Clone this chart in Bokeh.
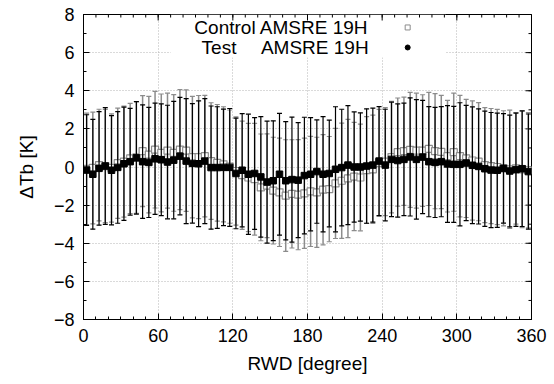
import math
from bokeh.plotting import figure
from bokeh.models import (ColumnDataSource, Label, BoxAnnotation,
                          Range1d, FixedTicker)
from bokeh.embed import file_html
from bokeh.resources import INLINE

# ---- data (bin centres every 5 degrees) ----
rwd = [2.5 + 5 * i for i in range(72)]

control_mean = [
    -0.10, -0.05, 0.10, 0.05, -0.05, 0.20, 0.28, 0.45, 0.50, 0.83, 0.65, 0.91,
    0.74, 0.86, 0.74, 0.91, 0.86, 0.52, 0.52, 0.57, 0.31, 0.22, 0.14, 0.02,
    -0.21, -0.43, -0.55, -0.64, -1.07, -0.98, -1.24, -1.33, -1.50, -1.41, -1.45, -1.38,
    -1.28, -1.33, -1.19, -1.16, -0.86, -0.72, -0.60, -0.50, -0.55, -0.16, -0.12, 0.22,
    0.28, 0.52, 0.78, 0.83, 0.90, 0.86, 0.86, 0.95, 0.83, 0.79, 0.57, 0.78,
    0.57, 0.45, 0.34, 0.28, 0.10, 0.05, 0.00, -0.07, -0.12, -0.07, -0.12, -0.17]

control_sd = [
    2.93, 2.93, 2.93, 2.97, 2.84, 2.89, 2.91, 2.89, 2.93, 2.91, 3.06, 3.06,
    3.09, 3.02, 3.06, 3.15, 3.19, 3.19, 3.23, 3.19, 3.06, 3.06, 3.02, 2.97,
    2.84, 2.84, 2.84, 2.93, 2.80, 2.72, 2.80, 2.84, 2.93, 2.84, 2.89, 2.89,
    2.89, 2.89, 2.89, 2.76, 2.89, 3.02, 3.10, 2.84, 2.80, 2.80, 2.84, 2.80,
    2.83, 2.93, 2.84, 2.84, 3.02, 3.02, 2.93, 2.97, 3.02, 2.97, 2.93, 3.10,
    3.19, 3.10, 3.13, 3.10, 3.02, 3.02, 3.02, 3.02, 3.10, 2.93, 3.06, 3.02]

test_mean = [
    -0.16, -0.38, -0.07, 0.05, -0.17, -0.02, 0.17, 0.28, 0.48, 0.28, 0.24, 0.43,
    0.38, 0.26, 0.36, 0.57, 0.31, 0.19, 0.17, 0.31, -0.03, -0.03, -0.02, -0.02,
    -0.34, -0.17, -0.38, -0.34, -0.52, -0.79, -0.72, -0.38, -0.72, -0.66, -0.69, -0.45,
    -0.38, -0.24, -0.38, -0.34, -0.12, -0.03, 0.10, 0.00, 0.00, 0.05, 0.10, 0.31,
    0.10, 0.40, 0.34, 0.40, 0.53, 0.40, 0.52, 0.28, 0.24, 0.28, 0.16, 0.14,
    0.14, 0.21, 0.09, 0.03, -0.09, -0.16, -0.17, -0.07, -0.21, -0.14, -0.09, -0.24]

test_sd = [
    2.90, 2.88, 2.98, 3.06, 2.87, 2.93, 2.97, 2.80, 2.95, 2.98, 2.89, 2.92,
    2.93, 2.98, 3.08, 3.08, 3.28, 3.13, 3.30, 3.28, 3.23, 3.19, 3.06, 3.09,
    2.90, 2.97, 3.15, 2.93, 3.16, 3.20, 3.14, 3.19, 3.10, 3.28, 3.02, 3.06,
    2.97, 2.71, 3.02, 2.80, 3.28, 3.06, 3.12, 2.89, 2.84, 3.00, 2.99, 2.86,
    2.93, 3.00, 2.97, 2.95, 3.10, 3.13, 2.97, 2.89, 2.89, 2.89, 3.06, 3.04,
    3.23, 3.02, 3.06, 3.02, 3.02, 3.02, 3.00, 2.87, 2.93, 2.97, 3.03, 3.02]

x_ticks = [0, 60, 120, 180, 240, 300, 360]
x_minor = list(range(0, 361, 10))
y_ticks = [-8, -6, -4, -2, 0, 2, 4, 6, 8]
y_minor = list(range(-8, 9, 1))
X_MIN, X_MAX = 0, 360
Y_MIN, Y_MAX = -8, 8

FONT = "Liberation Sans"
GRAY = "#8c8c8c"

src_c = ColumnDataSource(dict(
    x=rwd, m=control_mean,
    lo=[m - s for m, s in zip(control_mean, control_sd)],
    hi=[m + s for m, s in zip(control_mean, control_sd)]))
src_t = ColumnDataSource(dict(
    x=rwd, m=test_mean,
    lo=[m - s for m, s in zip(test_mean, test_sd)],
    hi=[m + s for m, s in zip(test_mean, test_sd)]))

p = figure(width=554, height=384, output_backend="svg", toolbar_location=None,
           x_range=Range1d(X_MIN, X_MAX), y_range=Range1d(Y_MIN, Y_MAX),
           min_border_left=83, min_border_right=23, min_border_top=14,
           min_border_bottom=65)
p.outline_line_color = "black"
p.outline_line_width = 1
p.background_fill_color = "white"
p.border_fill_color = "white"

xt = FixedTicker(ticks=x_ticks, minor_ticks=x_minor)
yt = FixedTicker(ticks=y_ticks, minor_ticks=y_minor)

for ax, ticker in ((p.xaxis[0], xt), (p.yaxis[0], yt)):
    ax.ticker = ticker
    ax.axis_line_color = "black"
    ax.major_tick_line_color = "black"
    ax.minor_tick_line_color = "black"
    ax.major_tick_in = 6
    ax.major_tick_out = 0
    ax.minor_tick_in = 3
    ax.minor_tick_out = 0
    ax.major_label_text_font = FONT
    ax.major_label_text_font_size = "18px"
    ax.major_label_text_color = "black"
    ax.major_label_standoff = 9
    ax.axis_label_text_font = FONT
    ax.axis_label_text_font_size = "19px"
    ax.axis_label_text_font_style = "normal"
    ax.axis_label_text_color = "black"

p.xaxis[0].axis_label = "RWD [degree]"
p.xaxis[0].axis_label_standoff = 8
p.yaxis[0].axis_label = "ΔTb [K]"
p.yaxis[0].axis_label_standoff = 14

p.xgrid.ticker = xt
p.ygrid.ticker = yt
for g in (p.xgrid, p.ygrid):
    g.grid_line_color = "#b4b4b4"
    g.grid_line_dash = "1 2"
    g.grid_line_width = 1

# mirrored inward ticks on top and right (clipped to the frame, half shows)
p.scatter(x=x_ticks, y=[Y_MAX] * len(x_ticks), marker="dash", angle=math.pi / 2,
          size=12, line_color="black", line_width=1)
p.scatter(x=x_minor, y=[Y_MAX] * len(x_minor), marker="dash", angle=math.pi / 2,
          size=6, line_color="black", line_width=1)
p.scatter(x=[X_MAX] * len(y_ticks), y=y_ticks, marker="dash",
          size=12, line_color="black", line_width=1)
p.scatter(x=[X_MAX] * len(y_minor), y=y_minor, marker="dash",
          size=6, line_color="black", line_width=1)

# legend background box (hides grid behind legend)
p.add_layout(BoxAnnotation(left=70, right=291, bottom=5.75, top=Y_MAX,
                           fill_color="white", fill_alpha=1.0,
                           line_alpha=0, level="underlay"))

# control series
p.segment(x0="x", y0="lo", x1="x", y1="hi", source=src_c,
          line_color=GRAY, line_width=1.5)
p.scatter(x="x", y="hi", source=src_c, marker="dash", size=5,
          line_color=GRAY, line_width=1.2)
p.scatter(x="x", y="lo", source=src_c, marker="dash", size=5,
          line_color=GRAY, line_width=1.2)
p.scatter(x="x", y="m", source=src_c, marker="square", size=7,
          line_color=GRAY, line_width=1.2, fill_color="white")

# test series
p.segment(x0="x", y0="lo", x1="x", y1="hi", source=src_t,
          line_color="black", line_width=1.2)
p.scatter(x="x", y="hi", source=src_t, marker="dash", size=5,
          line_color="black", line_width=1.2)
p.scatter(x="x", y="lo", source=src_t, marker="dash", size=5,
          line_color="black", line_width=1.2)
p.scatter(x="x", y="m", source=src_t, marker="square", size=6.5,
          line_color="black", fill_color="black")

# legend (text left, symbol right)
LX = 229.1
for txt, xx, yy, align in [("Control AMSRE 19H", LX, 7.32, "right"),
                           ("Test", 94.9, 6.27, "left"),
                           ("AMSRE 19H", LX, 6.27, "right")]:
    p.add_layout(Label(x=xx, y=yy, text=txt, text_font=FONT,
                       text_font_size="19px", text_color="black",
                       text_align=align, text_baseline="middle"))
p.scatter(x=[260.5], y=[7.32], marker="square", size=5,
          line_color=GRAY, fill_color="white", line_width=1)
p.scatter(x=[260.5], y=[6.27], marker="circle", size=5,
          line_color="black", fill_color="black")

open("out.html", "w").write(file_html(p, INLINE))
